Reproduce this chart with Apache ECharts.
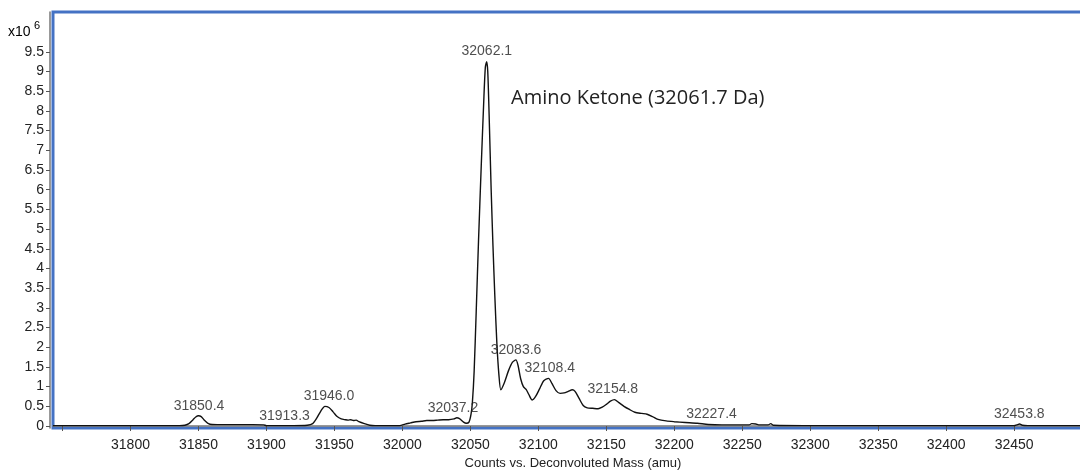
<!DOCTYPE html>
<html>
<head>
<meta charset="utf-8">
<script src="https://cdn.jsdelivr.net/npm/echarts@6/dist/echarts.min.js"></script>
<style>
  html, body { margin: 0; padding: 0; background: #fff; }
  #chart { width: 1080px; height: 470px; }
</style>
</head>
<body>
<div id="chart"></div>
<script>
// deconvoluted spectrum, intensity in x10^6 counts
const masses = [
  31743, 31800, 31836, 31840, 31843, 31846, 31848, 31850, 31852, 31854, 31857, 31860,
  31870, 31880, 31890, 31898, 31900, 31920, 31930, 31934, 31937, 31940, 31943, 31946,
  31949, 31952, 31955, 31958, 31960, 31962, 31964, 31966, 31968, 31972, 31976, 31980,
  31990, 31998, 32002, 32006, 32010, 32014, 32018, 32022, 32026, 32030, 32034, 32038,
  32040, 32042, 32045, 32047, 32049, 32050.5, 32051.5, 32052.8, 32054.3, 32056, 32058,
  32059.8, 32061, 32062, 32062.8, 32063.8, 32065.3, 32066.6, 32068, 32069.5, 32071,
  32072.4, 32075, 32078, 32081, 32083.5, 32085, 32087, 32089, 32091, 32093, 32095.5,
  32098, 32101, 32104, 32107.5, 32110, 32113, 32116, 32119, 32122, 32125, 32127, 32130,
  32133, 32136, 32140, 32144, 32147, 32150, 32153, 32156, 32159, 32163, 32167, 32171,
  32176, 32180, 32184, 32188, 32194, 32200, 32208, 32217, 32225, 32235, 32245, 32255,
  32257, 32260, 32262, 32269, 32271, 32273, 32300, 32400, 32450, 32452, 32454, 32456,
  32460, 32508
];
const intensity = [
  0.01, 0.01, 0.01, 0.02, 0.06, 0.16, 0.23, 0.26, 0.24, 0.16, 0.07, 0.04,
  0.035, 0.035, 0.035, 0.03, 0.01, 0.01, 0.02, 0.06, 0.2, 0.38, 0.5, 0.47,
  0.36, 0.24, 0.18, 0.16, 0.15, 0.16, 0.14, 0.15, 0.11, 0.06, 0.02, 0.01,
  0.01, 0.01, 0.05, 0.08, 0.11, 0.12, 0.14, 0.14, 0.15, 0.16, 0.16, 0.18,
  0.21, 0.19, 0.1, 0.07, 0.1, 0.3, 0.6, 1.4, 2.9, 4.7, 6.6,
  8.2, 9.1, 9.25, 9.0, 7.9, 6.0, 4.6, 3.3, 2.1, 1.3,
  0.92, 1.1, 1.4, 1.62, 1.68, 1.55, 1.2, 1.0, 0.93, 0.8, 0.66,
  0.75, 0.95, 1.15, 1.21, 1.08, 0.9, 0.83, 0.84, 0.88, 0.92, 0.88, 0.7,
  0.52, 0.46, 0.45, 0.44, 0.48, 0.55, 0.63, 0.67, 0.6, 0.5, 0.42, 0.35,
  0.32, 0.3, 0.24, 0.17, 0.13, 0.11, 0.09, 0.07, 0.04, 0.03, 0.03, 0.03,
  0.06, 0.05, 0.03, 0.03, 0.06, 0.02, 0.01, 0.01, 0.01, 0.03, 0.05, 0.02,
  0.01, 0.01
];

// labelled peaks
const peakMasses = [31850.4, 31913.3, 31946.0, 32037.2, 32062.1, 32083.6, 32108.4, 32154.8, 32227.4, 32453.8];
const peakHeights = [0.26, 0.0, 0.5, 0.19, 9.25, 1.68, 1.21, 0.67, 0.04, 0.04];

const xTicks = [31750, 31800, 31850, 31900, 31950, 32000, 32050, 32100, 32150, 32200, 32250, 32300, 32350, 32400, 32450];
const xLabels = xTicks.slice(1);
const yTicks = [0, 0.5, 1, 1.5, 2, 2.5, 3, 3.5, 4, 4.5, 5, 5.5, 6, 6.5, 7, 7.5, 8, 8.5, 9, 9.5];

const FONT = '"Liberation Sans", Arial, sans-serif';

const chart = echarts.init(document.getElementById('chart'));
chart.setOption({
  animation: false,
  backgroundColor: '#fff',
  title: {
    text: 'Amino Ketone (32061.7 Da)',
    left: 506,
    top: 83,
    textStyle: { fontFamily: '"Open Sans", sans-serif', fontWeight: 'normal', fontSize: 20, color: '#222' }
  },
  graphic: [{
    type: 'text',
    left: 8,
    top: 20,
    style: {
      text: '{b|x10} {s|6}',
      rich: {
        b: { fontFamily: FONT, fontSize: 14, color: '#222', padding: [7, 0, 0, 0] },
        s: { fontFamily: FONT, fontSize: 11, color: '#222', padding: [0, 0, 6, 0] }
      }
    }
  }],
  grid: {
    left: 53,
    top: 12,
    width: 1040,
    bottom: 42,
    outerBoundsMode: 'none',
    containLabel: false,
    show: true,
    borderColor: '#4472C4',
    borderWidth: 3,
    backgroundColor: 'transparent'
  },
  xAxis: {
    type: 'value',
    min: 31743,
    max: 32508,
    offset: 2,
    name: 'Counts vs. Deconvoluted Mass (amu)',
    nameLocation: 'middle',
    nameGap: 24,
    nameTextStyle: { fontFamily: FONT, fontSize: 13, color: '#222' },
    axisLine: { show: true, lineStyle: { color: '#777', width: 1.5 } },
    axisTick: { show: true, length: 5, customValues: xTicks, lineStyle: { color: '#555' } },
    axisLabel: {
      customValues: xLabels, margin: 8, fontFamily: FONT, fontSize: 14, color: '#222',
      formatter: v => String(v)
    },
    splitLine: { show: false }
  },
  yAxis: {
    type: 'value',
    min: -0.05,
    max: 10.51,
    offset: 3,
    axisLine: { show: true, lineStyle: { color: '#777', width: 1.5 } },
    axisTick: { show: true, length: 4, customValues: yTicks, lineStyle: { color: '#555' } },
    axisLabel: {
      customValues: yTicks, margin: 6, fontFamily: FONT, fontSize: 14, color: '#222',
      formatter: v => String(v)
    },
    splitLine: { show: false }
  },
  series: [{
    name: 'spectrum',
    type: 'line',
    data: masses.map((m, i) => [m, intensity[i]]),
    showSymbol: false,
    smooth: 0.25,
    lineStyle: { color: '#111', width: 1.4 },
    z: 3
  }, {
    name: 'peaks',
    type: 'scatter',
    symbolSize: 0,
    data: peakMasses.map((m, i) => [m, peakHeights[i]]),
    label: {
      show: true,
      position: 'top',
      distance: 3,
      fontFamily: FONT,
      fontSize: 14,
      color: '#222',
      formatter: p => p.value[0].toFixed(1)
    },
    z: 4
  }]
});
</script>
</body>
</html>
